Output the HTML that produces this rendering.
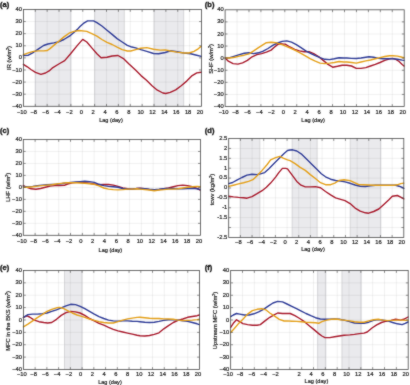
<!DOCTYPE html>
<html><head><meta charset="utf-8"><style>
html,body{margin:0;padding:0;background:#fff;}
svg{display:block;}
#w{width:410px;height:385px;will-change:transform;}
text{font-family:"Liberation Sans", sans-serif;fill:#1a1a1a;stroke:#1a1a1a;stroke-width:0.2px;}
</style></head><body><div id="w">
<svg width="410" height="385" viewBox="0 0 410 385">
<defs><filter id="bl" color-interpolation-filters="sRGB" filterUnits="userSpaceOnUse" x="0" y="0" width="410" height="385"><feConvolveMatrix order="3" kernelMatrix="1 2 1 2 20 2 1 2 1" edgeMode="duplicate" preserveAlpha="false"/></filter></defs>
<g filter="url(#bl)">
<rect width="410" height="385" fill="#fff"/>
<rect x="35.27" y="9.45" width="35.62" height="96.85" fill="#eaeaed"/>
<rect x="94.64" y="9.45" width="29.68" height="96.85" fill="#eaeaed"/>
<rect x="154.01" y="9.45" width="29.68" height="96.85" fill="#eaeaed"/>
<line x1="35.27" y1="9.45" x2="35.27" y2="106.30" stroke="#000" stroke-opacity="0.08" stroke-width="0.8"/>
<line x1="47.15" y1="9.45" x2="47.15" y2="106.30" stroke="#000" stroke-opacity="0.08" stroke-width="0.8"/>
<line x1="59.02" y1="9.45" x2="59.02" y2="106.30" stroke="#000" stroke-opacity="0.08" stroke-width="0.8"/>
<line x1="70.89" y1="9.45" x2="70.89" y2="106.30" stroke="#000" stroke-opacity="0.08" stroke-width="0.8"/>
<line x1="82.77" y1="9.45" x2="82.77" y2="106.30" stroke="#000" stroke-opacity="0.08" stroke-width="0.8"/>
<line x1="94.64" y1="9.45" x2="94.64" y2="106.30" stroke="#000" stroke-opacity="0.08" stroke-width="0.8"/>
<line x1="106.51" y1="9.45" x2="106.51" y2="106.30" stroke="#000" stroke-opacity="0.08" stroke-width="0.8"/>
<line x1="118.39" y1="9.45" x2="118.39" y2="106.30" stroke="#000" stroke-opacity="0.08" stroke-width="0.8"/>
<line x1="130.26" y1="9.45" x2="130.26" y2="106.30" stroke="#000" stroke-opacity="0.08" stroke-width="0.8"/>
<line x1="142.13" y1="9.45" x2="142.13" y2="106.30" stroke="#000" stroke-opacity="0.08" stroke-width="0.8"/>
<line x1="154.01" y1="9.45" x2="154.01" y2="106.30" stroke="#000" stroke-opacity="0.08" stroke-width="0.8"/>
<line x1="165.88" y1="9.45" x2="165.88" y2="106.30" stroke="#000" stroke-opacity="0.08" stroke-width="0.8"/>
<line x1="177.75" y1="9.45" x2="177.75" y2="106.30" stroke="#000" stroke-opacity="0.08" stroke-width="0.8"/>
<line x1="189.63" y1="9.45" x2="189.63" y2="106.30" stroke="#000" stroke-opacity="0.08" stroke-width="0.8"/>
<line x1="23.40" y1="94.19" x2="201.50" y2="94.19" stroke="#000" stroke-opacity="0.08" stroke-width="0.8"/>
<line x1="23.40" y1="82.09" x2="201.50" y2="82.09" stroke="#000" stroke-opacity="0.08" stroke-width="0.8"/>
<line x1="23.40" y1="69.98" x2="201.50" y2="69.98" stroke="#000" stroke-opacity="0.08" stroke-width="0.8"/>
<line x1="23.40" y1="57.88" x2="201.50" y2="57.88" stroke="#000" stroke-opacity="0.08" stroke-width="0.8"/>
<line x1="23.40" y1="45.77" x2="201.50" y2="45.77" stroke="#000" stroke-opacity="0.08" stroke-width="0.8"/>
<line x1="23.40" y1="33.66" x2="201.50" y2="33.66" stroke="#000" stroke-opacity="0.08" stroke-width="0.8"/>
<line x1="23.40" y1="21.56" x2="201.50" y2="21.56" stroke="#000" stroke-opacity="0.08" stroke-width="0.8"/>
<line x1="35.27" y1="9.45" x2="35.27" y2="106.30" stroke="#b8b8bc" stroke-width="0.5"/>
<line x1="70.89" y1="9.45" x2="70.89" y2="106.30" stroke="#b8b8bc" stroke-width="0.5"/>
<line x1="94.64" y1="9.45" x2="94.64" y2="106.30" stroke="#b8b8bc" stroke-width="0.5"/>
<line x1="124.32" y1="9.45" x2="124.32" y2="106.30" stroke="#b8b8bc" stroke-width="0.5"/>
<line x1="154.01" y1="9.45" x2="154.01" y2="106.30" stroke="#b8b8bc" stroke-width="0.5"/>
<line x1="183.69" y1="9.45" x2="183.69" y2="106.30" stroke="#b8b8bc" stroke-width="0.5"/>
<polyline points="23.4,64.3 27.3,66.8 30.9,69.5 35.5,72.3 40.9,74.3 45.5,73.0 49.1,70.9 52.1,68.2 58.8,64.0 64.7,60.6 70.6,53.8 77.4,45.4 82.7,39.4 86.8,42.0 91.8,47.9 96.9,53.8 101.1,57.7 107.0,57.2 112.1,56.0 118.0,55.5 123.9,58.9 129.0,64.0 135.5,70.1 141.0,75.6 146.5,80.2 152.0,85.7 157.4,90.2 162.9,93.0 165.7,93.5 170.2,92.4 175.7,89.9 181.2,85.7 186.7,81.1 192.2,75.6 196.8,72.9 201.3,72.3" fill="none" stroke="#a81a2c" stroke-width="1.4" stroke-linejoin="round" stroke-linecap="round"/>
<polyline points="23.4,55.5 28.4,55.2 33.6,52.3 38.2,49.1 43.6,45.5 47.9,44.0 53.8,42.9 58.0,42.0 63.9,39.5 70.6,35.3 77.4,29.4 80.0,26.5 83.4,23.4 87.6,20.9 93.5,20.9 96.9,22.6 101.9,26.0 107.0,30.2 112.1,34.4 117.1,38.6 122.2,42.0 127.3,45.4 130.7,46.7 135.7,47.9 140.8,49.6 146.8,51.3 153.5,53.5 158.6,53.8 165.3,52.5 170.4,50.8 177.1,51.8 183.9,53.0 190.7,53.8 195.7,55.0 201.3,56.4" fill="none" stroke="#2f3c97" stroke-width="1.4" stroke-linejoin="round" stroke-linecap="round"/>
<polyline points="23.4,54.7 29.1,52.7 33.6,51.4 38.2,50.9 43.6,50.9 47.3,50.5 50.0,48.6 53.8,45.4 58.8,41.2 63.9,36.9 69.0,33.2 74.0,31.4 79.1,30.5 86.8,31.4 91.8,33.6 96.9,36.1 101.9,39.5 107.0,42.4 112.1,44.5 117.1,47.1 122.2,49.6 127.3,51.0 130.7,51.0 135.7,49.6 140.8,48.3 146.8,47.6 153.5,49.3 160.3,50.1 165.3,49.9 170.4,51.0 177.1,52.1 183.9,53.0 189.0,53.0 194.0,51.3 198.2,48.8 201.3,46.2" fill="none" stroke="#e4a01a" stroke-width="1.4" stroke-linejoin="round" stroke-linecap="round"/>
<rect x="23.40" y="9.45" width="178.10" height="96.85" fill="none" stroke="#4a4a4a" stroke-width="0.8"/>
<line x1="35.27" y1="106.30" x2="35.27" y2="103.90" stroke="#4a4a4a" stroke-width="0.6"/>
<line x1="35.27" y1="9.45" x2="35.27" y2="11.85" stroke="#4a4a4a" stroke-width="0.6"/>
<line x1="47.15" y1="106.30" x2="47.15" y2="103.90" stroke="#4a4a4a" stroke-width="0.6"/>
<line x1="47.15" y1="9.45" x2="47.15" y2="11.85" stroke="#4a4a4a" stroke-width="0.6"/>
<line x1="59.02" y1="106.30" x2="59.02" y2="103.90" stroke="#4a4a4a" stroke-width="0.6"/>
<line x1="59.02" y1="9.45" x2="59.02" y2="11.85" stroke="#4a4a4a" stroke-width="0.6"/>
<line x1="70.89" y1="106.30" x2="70.89" y2="103.90" stroke="#4a4a4a" stroke-width="0.6"/>
<line x1="70.89" y1="9.45" x2="70.89" y2="11.85" stroke="#4a4a4a" stroke-width="0.6"/>
<line x1="82.77" y1="106.30" x2="82.77" y2="103.90" stroke="#4a4a4a" stroke-width="0.6"/>
<line x1="82.77" y1="9.45" x2="82.77" y2="11.85" stroke="#4a4a4a" stroke-width="0.6"/>
<line x1="94.64" y1="106.30" x2="94.64" y2="103.90" stroke="#4a4a4a" stroke-width="0.6"/>
<line x1="94.64" y1="9.45" x2="94.64" y2="11.85" stroke="#4a4a4a" stroke-width="0.6"/>
<line x1="106.51" y1="106.30" x2="106.51" y2="103.90" stroke="#4a4a4a" stroke-width="0.6"/>
<line x1="106.51" y1="9.45" x2="106.51" y2="11.85" stroke="#4a4a4a" stroke-width="0.6"/>
<line x1="118.39" y1="106.30" x2="118.39" y2="103.90" stroke="#4a4a4a" stroke-width="0.6"/>
<line x1="118.39" y1="9.45" x2="118.39" y2="11.85" stroke="#4a4a4a" stroke-width="0.6"/>
<line x1="130.26" y1="106.30" x2="130.26" y2="103.90" stroke="#4a4a4a" stroke-width="0.6"/>
<line x1="130.26" y1="9.45" x2="130.26" y2="11.85" stroke="#4a4a4a" stroke-width="0.6"/>
<line x1="142.13" y1="106.30" x2="142.13" y2="103.90" stroke="#4a4a4a" stroke-width="0.6"/>
<line x1="142.13" y1="9.45" x2="142.13" y2="11.85" stroke="#4a4a4a" stroke-width="0.6"/>
<line x1="154.01" y1="106.30" x2="154.01" y2="103.90" stroke="#4a4a4a" stroke-width="0.6"/>
<line x1="154.01" y1="9.45" x2="154.01" y2="11.85" stroke="#4a4a4a" stroke-width="0.6"/>
<line x1="165.88" y1="106.30" x2="165.88" y2="103.90" stroke="#4a4a4a" stroke-width="0.6"/>
<line x1="165.88" y1="9.45" x2="165.88" y2="11.85" stroke="#4a4a4a" stroke-width="0.6"/>
<line x1="177.75" y1="106.30" x2="177.75" y2="103.90" stroke="#4a4a4a" stroke-width="0.6"/>
<line x1="177.75" y1="9.45" x2="177.75" y2="11.85" stroke="#4a4a4a" stroke-width="0.6"/>
<line x1="189.63" y1="106.30" x2="189.63" y2="103.90" stroke="#4a4a4a" stroke-width="0.6"/>
<line x1="189.63" y1="9.45" x2="189.63" y2="11.85" stroke="#4a4a4a" stroke-width="0.6"/>
<line x1="23.40" y1="94.19" x2="25.80" y2="94.19" stroke="#4a4a4a" stroke-width="0.6"/>
<line x1="201.50" y1="94.19" x2="199.10" y2="94.19" stroke="#4a4a4a" stroke-width="0.6"/>
<line x1="23.40" y1="82.09" x2="25.80" y2="82.09" stroke="#4a4a4a" stroke-width="0.6"/>
<line x1="201.50" y1="82.09" x2="199.10" y2="82.09" stroke="#4a4a4a" stroke-width="0.6"/>
<line x1="23.40" y1="69.98" x2="25.80" y2="69.98" stroke="#4a4a4a" stroke-width="0.6"/>
<line x1="201.50" y1="69.98" x2="199.10" y2="69.98" stroke="#4a4a4a" stroke-width="0.6"/>
<line x1="23.40" y1="57.88" x2="25.80" y2="57.88" stroke="#4a4a4a" stroke-width="0.6"/>
<line x1="201.50" y1="57.88" x2="199.10" y2="57.88" stroke="#4a4a4a" stroke-width="0.6"/>
<line x1="23.40" y1="45.77" x2="25.80" y2="45.77" stroke="#4a4a4a" stroke-width="0.6"/>
<line x1="201.50" y1="45.77" x2="199.10" y2="45.77" stroke="#4a4a4a" stroke-width="0.6"/>
<line x1="23.40" y1="33.66" x2="25.80" y2="33.66" stroke="#4a4a4a" stroke-width="0.6"/>
<line x1="201.50" y1="33.66" x2="199.10" y2="33.66" stroke="#4a4a4a" stroke-width="0.6"/>
<line x1="23.40" y1="21.56" x2="25.80" y2="21.56" stroke="#4a4a4a" stroke-width="0.6"/>
<line x1="201.50" y1="21.56" x2="199.10" y2="21.56" stroke="#4a4a4a" stroke-width="0.6"/>
<text x="21.90" y="114.00" text-anchor="middle" font-size="5.8">−10</text>
<text x="33.77" y="114.00" text-anchor="middle" font-size="5.8">−8</text>
<text x="45.65" y="114.00" text-anchor="middle" font-size="5.8">−6</text>
<text x="57.52" y="114.00" text-anchor="middle" font-size="5.8">−4</text>
<text x="69.39" y="114.00" text-anchor="middle" font-size="5.8">−2</text>
<text x="81.27" y="114.00" text-anchor="middle" font-size="5.8">0</text>
<text x="93.14" y="114.00" text-anchor="middle" font-size="5.8">2</text>
<text x="105.01" y="114.00" text-anchor="middle" font-size="5.8">4</text>
<text x="116.89" y="114.00" text-anchor="middle" font-size="5.8">6</text>
<text x="128.76" y="114.00" text-anchor="middle" font-size="5.8">8</text>
<text x="140.63" y="114.00" text-anchor="middle" font-size="5.8">10</text>
<text x="152.51" y="114.00" text-anchor="middle" font-size="5.8">12</text>
<text x="164.38" y="114.00" text-anchor="middle" font-size="5.8">14</text>
<text x="176.25" y="114.00" text-anchor="middle" font-size="5.8">16</text>
<text x="188.13" y="114.00" text-anchor="middle" font-size="5.8">18</text>
<text x="200.00" y="114.00" text-anchor="middle" font-size="5.8">20</text>
<text x="22.00" y="107.90" text-anchor="end" font-size="5.8">−40</text>
<text x="22.00" y="95.79" text-anchor="end" font-size="5.8">−30</text>
<text x="22.00" y="83.69" text-anchor="end" font-size="5.8">−20</text>
<text x="22.00" y="71.58" text-anchor="end" font-size="5.8">−10</text>
<text x="22.00" y="59.48" text-anchor="end" font-size="5.8">0</text>
<text x="22.00" y="47.37" text-anchor="end" font-size="5.8">10</text>
<text x="22.00" y="35.26" text-anchor="end" font-size="5.8">20</text>
<text x="22.00" y="23.16" text-anchor="end" font-size="5.8">30</text>
<text x="22.00" y="11.05" text-anchor="end" font-size="5.8">40</text>
<text x="110.95" y="122.40" text-anchor="middle" font-size="5.6">Lag (day)</text>
<text transform="translate(10.80,58.00) rotate(-90)" text-anchor="middle" font-size="5.8">IR (w/m<tspan font-size="3.6" dy="-2">2</tspan><tspan dy="2">)</tspan></text>
<text x="0.10" y="6.80" font-size="7.5" font-weight="bold" style="stroke-width:0.35px">(a)</text>
<line x1="237.04" y1="9.80" x2="237.04" y2="106.50" stroke="#000" stroke-opacity="0.08" stroke-width="0.8"/>
<line x1="248.98" y1="9.80" x2="248.98" y2="106.50" stroke="#000" stroke-opacity="0.08" stroke-width="0.8"/>
<line x1="260.92" y1="9.80" x2="260.92" y2="106.50" stroke="#000" stroke-opacity="0.08" stroke-width="0.8"/>
<line x1="272.86" y1="9.80" x2="272.86" y2="106.50" stroke="#000" stroke-opacity="0.08" stroke-width="0.8"/>
<line x1="284.80" y1="9.80" x2="284.80" y2="106.50" stroke="#000" stroke-opacity="0.08" stroke-width="0.8"/>
<line x1="296.74" y1="9.80" x2="296.74" y2="106.50" stroke="#000" stroke-opacity="0.08" stroke-width="0.8"/>
<line x1="308.68" y1="9.80" x2="308.68" y2="106.50" stroke="#000" stroke-opacity="0.08" stroke-width="0.8"/>
<line x1="320.62" y1="9.80" x2="320.62" y2="106.50" stroke="#000" stroke-opacity="0.08" stroke-width="0.8"/>
<line x1="332.56" y1="9.80" x2="332.56" y2="106.50" stroke="#000" stroke-opacity="0.08" stroke-width="0.8"/>
<line x1="344.50" y1="9.80" x2="344.50" y2="106.50" stroke="#000" stroke-opacity="0.08" stroke-width="0.8"/>
<line x1="356.44" y1="9.80" x2="356.44" y2="106.50" stroke="#000" stroke-opacity="0.08" stroke-width="0.8"/>
<line x1="368.38" y1="9.80" x2="368.38" y2="106.50" stroke="#000" stroke-opacity="0.08" stroke-width="0.8"/>
<line x1="380.32" y1="9.80" x2="380.32" y2="106.50" stroke="#000" stroke-opacity="0.08" stroke-width="0.8"/>
<line x1="392.26" y1="9.80" x2="392.26" y2="106.50" stroke="#000" stroke-opacity="0.08" stroke-width="0.8"/>
<line x1="225.10" y1="94.41" x2="404.20" y2="94.41" stroke="#000" stroke-opacity="0.08" stroke-width="0.8"/>
<line x1="225.10" y1="82.33" x2="404.20" y2="82.33" stroke="#000" stroke-opacity="0.08" stroke-width="0.8"/>
<line x1="225.10" y1="70.24" x2="404.20" y2="70.24" stroke="#000" stroke-opacity="0.08" stroke-width="0.8"/>
<line x1="225.10" y1="58.15" x2="404.20" y2="58.15" stroke="#000" stroke-opacity="0.08" stroke-width="0.8"/>
<line x1="225.10" y1="46.06" x2="404.20" y2="46.06" stroke="#000" stroke-opacity="0.08" stroke-width="0.8"/>
<line x1="225.10" y1="33.98" x2="404.20" y2="33.98" stroke="#000" stroke-opacity="0.08" stroke-width="0.8"/>
<line x1="225.10" y1="21.89" x2="404.20" y2="21.89" stroke="#000" stroke-opacity="0.08" stroke-width="0.8"/>
<polyline points="225.2,58.0 228.3,61.2 233.1,63.6 237.9,64.1 242.6,62.8 247.4,60.4 252.1,56.8 256.9,54.6 261.6,53.6 266.4,52.2 271.1,50.1 274.3,47.3 277.5,44.6 280.7,43.8 283.8,44.1 285.2,44.1 289.9,47.0 294.7,49.3 299.4,50.9 304.2,51.7 309.0,51.7 313.7,53.6 318.5,56.5 323.2,60.4 328.0,64.4 332.7,67.2 337.5,66.3 342.2,65.2 346.8,65.2 351.5,66.0 356.3,68.4 361.0,68.4 365.8,67.6 370.5,66.0 375.3,64.4 380.0,62.5 384.8,60.4 389.6,58.8 392.7,58.4 395.9,59.3 399.1,61.5 402.2,64.4 404.0,66.0" fill="none" stroke="#a81a2c" stroke-width="1.4" stroke-linejoin="round" stroke-linecap="round"/>
<polyline points="225.2,58.0 229.9,57.7 234.7,56.1 239.4,54.6 244.2,53.3 249.0,52.8 253.7,53.6 258.5,52.8 263.2,51.2 268.0,48.5 272.7,45.4 277.5,43.0 282.2,41.4 286.8,40.9 291.5,42.2 296.3,44.6 301.0,47.7 305.8,50.9 310.5,53.3 315.3,55.7 320.0,57.7 324.8,59.3 329.6,59.6 334.3,58.8 339.1,57.7 343.8,58.0 346.8,58.0 351.5,58.4 356.3,58.5 361.0,58.0 365.8,57.3 369.0,56.8 373.7,57.3 378.5,58.4 383.2,58.8 388.0,58.8 392.7,58.8 397.5,59.2 402.2,60.1 404.0,60.4" fill="none" stroke="#2f3c97" stroke-width="1.4" stroke-linejoin="round" stroke-linecap="round"/>
<polyline points="225.2,58.0 229.9,58.0 234.7,57.3 239.4,56.1 244.2,55.2 249.0,53.8 253.7,50.9 258.5,47.7 263.2,44.6 266.4,42.7 271.1,42.2 275.9,42.7 280.7,44.3 282.0,44.6 286.8,46.6 291.5,48.5 296.3,50.9 301.0,53.3 305.8,56.1 310.5,58.8 315.3,61.2 320.0,63.1 324.8,63.6 329.6,63.1 334.3,62.5 339.1,61.5 343.8,62.0 346.8,62.0 351.5,62.5 356.3,63.1 361.0,62.0 365.8,60.9 370.5,60.0 375.3,58.8 380.0,57.6 384.8,56.5 389.6,55.7 392.7,55.7 397.5,56.1 402.2,57.3 404.0,57.7" fill="none" stroke="#e4a01a" stroke-width="1.4" stroke-linejoin="round" stroke-linecap="round"/>
<rect x="225.10" y="9.80" width="179.10" height="96.70" fill="none" stroke="#4a4a4a" stroke-width="0.8"/>
<line x1="237.04" y1="106.50" x2="237.04" y2="104.10" stroke="#4a4a4a" stroke-width="0.6"/>
<line x1="237.04" y1="9.80" x2="237.04" y2="12.20" stroke="#4a4a4a" stroke-width="0.6"/>
<line x1="248.98" y1="106.50" x2="248.98" y2="104.10" stroke="#4a4a4a" stroke-width="0.6"/>
<line x1="248.98" y1="9.80" x2="248.98" y2="12.20" stroke="#4a4a4a" stroke-width="0.6"/>
<line x1="260.92" y1="106.50" x2="260.92" y2="104.10" stroke="#4a4a4a" stroke-width="0.6"/>
<line x1="260.92" y1="9.80" x2="260.92" y2="12.20" stroke="#4a4a4a" stroke-width="0.6"/>
<line x1="272.86" y1="106.50" x2="272.86" y2="104.10" stroke="#4a4a4a" stroke-width="0.6"/>
<line x1="272.86" y1="9.80" x2="272.86" y2="12.20" stroke="#4a4a4a" stroke-width="0.6"/>
<line x1="284.80" y1="106.50" x2="284.80" y2="104.10" stroke="#4a4a4a" stroke-width="0.6"/>
<line x1="284.80" y1="9.80" x2="284.80" y2="12.20" stroke="#4a4a4a" stroke-width="0.6"/>
<line x1="296.74" y1="106.50" x2="296.74" y2="104.10" stroke="#4a4a4a" stroke-width="0.6"/>
<line x1="296.74" y1="9.80" x2="296.74" y2="12.20" stroke="#4a4a4a" stroke-width="0.6"/>
<line x1="308.68" y1="106.50" x2="308.68" y2="104.10" stroke="#4a4a4a" stroke-width="0.6"/>
<line x1="308.68" y1="9.80" x2="308.68" y2="12.20" stroke="#4a4a4a" stroke-width="0.6"/>
<line x1="320.62" y1="106.50" x2="320.62" y2="104.10" stroke="#4a4a4a" stroke-width="0.6"/>
<line x1="320.62" y1="9.80" x2="320.62" y2="12.20" stroke="#4a4a4a" stroke-width="0.6"/>
<line x1="332.56" y1="106.50" x2="332.56" y2="104.10" stroke="#4a4a4a" stroke-width="0.6"/>
<line x1="332.56" y1="9.80" x2="332.56" y2="12.20" stroke="#4a4a4a" stroke-width="0.6"/>
<line x1="344.50" y1="106.50" x2="344.50" y2="104.10" stroke="#4a4a4a" stroke-width="0.6"/>
<line x1="344.50" y1="9.80" x2="344.50" y2="12.20" stroke="#4a4a4a" stroke-width="0.6"/>
<line x1="356.44" y1="106.50" x2="356.44" y2="104.10" stroke="#4a4a4a" stroke-width="0.6"/>
<line x1="356.44" y1="9.80" x2="356.44" y2="12.20" stroke="#4a4a4a" stroke-width="0.6"/>
<line x1="368.38" y1="106.50" x2="368.38" y2="104.10" stroke="#4a4a4a" stroke-width="0.6"/>
<line x1="368.38" y1="9.80" x2="368.38" y2="12.20" stroke="#4a4a4a" stroke-width="0.6"/>
<line x1="380.32" y1="106.50" x2="380.32" y2="104.10" stroke="#4a4a4a" stroke-width="0.6"/>
<line x1="380.32" y1="9.80" x2="380.32" y2="12.20" stroke="#4a4a4a" stroke-width="0.6"/>
<line x1="392.26" y1="106.50" x2="392.26" y2="104.10" stroke="#4a4a4a" stroke-width="0.6"/>
<line x1="392.26" y1="9.80" x2="392.26" y2="12.20" stroke="#4a4a4a" stroke-width="0.6"/>
<line x1="225.10" y1="94.41" x2="227.50" y2="94.41" stroke="#4a4a4a" stroke-width="0.6"/>
<line x1="404.20" y1="94.41" x2="401.80" y2="94.41" stroke="#4a4a4a" stroke-width="0.6"/>
<line x1="225.10" y1="82.33" x2="227.50" y2="82.33" stroke="#4a4a4a" stroke-width="0.6"/>
<line x1="404.20" y1="82.33" x2="401.80" y2="82.33" stroke="#4a4a4a" stroke-width="0.6"/>
<line x1="225.10" y1="70.24" x2="227.50" y2="70.24" stroke="#4a4a4a" stroke-width="0.6"/>
<line x1="404.20" y1="70.24" x2="401.80" y2="70.24" stroke="#4a4a4a" stroke-width="0.6"/>
<line x1="225.10" y1="58.15" x2="227.50" y2="58.15" stroke="#4a4a4a" stroke-width="0.6"/>
<line x1="404.20" y1="58.15" x2="401.80" y2="58.15" stroke="#4a4a4a" stroke-width="0.6"/>
<line x1="225.10" y1="46.06" x2="227.50" y2="46.06" stroke="#4a4a4a" stroke-width="0.6"/>
<line x1="404.20" y1="46.06" x2="401.80" y2="46.06" stroke="#4a4a4a" stroke-width="0.6"/>
<line x1="225.10" y1="33.98" x2="227.50" y2="33.98" stroke="#4a4a4a" stroke-width="0.6"/>
<line x1="404.20" y1="33.98" x2="401.80" y2="33.98" stroke="#4a4a4a" stroke-width="0.6"/>
<line x1="225.10" y1="21.89" x2="227.50" y2="21.89" stroke="#4a4a4a" stroke-width="0.6"/>
<line x1="404.20" y1="21.89" x2="401.80" y2="21.89" stroke="#4a4a4a" stroke-width="0.6"/>
<text x="223.60" y="114.00" text-anchor="middle" font-size="5.8">−10</text>
<text x="235.54" y="114.00" text-anchor="middle" font-size="5.8">−8</text>
<text x="247.48" y="114.00" text-anchor="middle" font-size="5.8">−6</text>
<text x="259.42" y="114.00" text-anchor="middle" font-size="5.8">−4</text>
<text x="271.36" y="114.00" text-anchor="middle" font-size="5.8">−2</text>
<text x="283.30" y="114.00" text-anchor="middle" font-size="5.8">0</text>
<text x="295.24" y="114.00" text-anchor="middle" font-size="5.8">2</text>
<text x="307.18" y="114.00" text-anchor="middle" font-size="5.8">4</text>
<text x="319.12" y="114.00" text-anchor="middle" font-size="5.8">6</text>
<text x="331.06" y="114.00" text-anchor="middle" font-size="5.8">8</text>
<text x="343.00" y="114.00" text-anchor="middle" font-size="5.8">10</text>
<text x="354.94" y="114.00" text-anchor="middle" font-size="5.8">12</text>
<text x="366.88" y="114.00" text-anchor="middle" font-size="5.8">14</text>
<text x="378.82" y="114.00" text-anchor="middle" font-size="5.8">16</text>
<text x="390.76" y="114.00" text-anchor="middle" font-size="5.8">18</text>
<text x="402.70" y="114.00" text-anchor="middle" font-size="5.8">20</text>
<text x="223.70" y="108.10" text-anchor="end" font-size="5.8">−40</text>
<text x="223.70" y="96.01" text-anchor="end" font-size="5.8">−30</text>
<text x="223.70" y="83.92" text-anchor="end" font-size="5.8">−20</text>
<text x="223.70" y="71.84" text-anchor="end" font-size="5.8">−10</text>
<text x="223.70" y="59.75" text-anchor="end" font-size="5.8">0</text>
<text x="223.70" y="47.66" text-anchor="end" font-size="5.8">10</text>
<text x="223.70" y="35.58" text-anchor="end" font-size="5.8">20</text>
<text x="223.70" y="23.49" text-anchor="end" font-size="5.8">30</text>
<text x="223.70" y="11.40" text-anchor="end" font-size="5.8">40</text>
<text x="313.15" y="122.40" text-anchor="middle" font-size="5.6">Lag (day)</text>
<text transform="translate(212.60,59.00) rotate(-90)" text-anchor="middle" font-size="5.8">SHF (w/m<tspan font-size="3.6" dy="-2">2</tspan><tspan dy="2">)</tspan></text>
<text x="204.80" y="6.90" font-size="7.5" font-weight="bold" style="stroke-width:0.35px">(b)</text>
<line x1="35.11" y1="139.45" x2="35.11" y2="235.30" stroke="#000" stroke-opacity="0.08" stroke-width="0.8"/>
<line x1="46.91" y1="139.45" x2="46.91" y2="235.30" stroke="#000" stroke-opacity="0.08" stroke-width="0.8"/>
<line x1="58.72" y1="139.45" x2="58.72" y2="235.30" stroke="#000" stroke-opacity="0.08" stroke-width="0.8"/>
<line x1="70.53" y1="139.45" x2="70.53" y2="235.30" stroke="#000" stroke-opacity="0.08" stroke-width="0.8"/>
<line x1="82.33" y1="139.45" x2="82.33" y2="235.30" stroke="#000" stroke-opacity="0.08" stroke-width="0.8"/>
<line x1="94.14" y1="139.45" x2="94.14" y2="235.30" stroke="#000" stroke-opacity="0.08" stroke-width="0.8"/>
<line x1="105.95" y1="139.45" x2="105.95" y2="235.30" stroke="#000" stroke-opacity="0.08" stroke-width="0.8"/>
<line x1="117.75" y1="139.45" x2="117.75" y2="235.30" stroke="#000" stroke-opacity="0.08" stroke-width="0.8"/>
<line x1="129.56" y1="139.45" x2="129.56" y2="235.30" stroke="#000" stroke-opacity="0.08" stroke-width="0.8"/>
<line x1="141.37" y1="139.45" x2="141.37" y2="235.30" stroke="#000" stroke-opacity="0.08" stroke-width="0.8"/>
<line x1="153.17" y1="139.45" x2="153.17" y2="235.30" stroke="#000" stroke-opacity="0.08" stroke-width="0.8"/>
<line x1="164.98" y1="139.45" x2="164.98" y2="235.30" stroke="#000" stroke-opacity="0.08" stroke-width="0.8"/>
<line x1="176.79" y1="139.45" x2="176.79" y2="235.30" stroke="#000" stroke-opacity="0.08" stroke-width="0.8"/>
<line x1="188.59" y1="139.45" x2="188.59" y2="235.30" stroke="#000" stroke-opacity="0.08" stroke-width="0.8"/>
<line x1="23.30" y1="223.32" x2="200.40" y2="223.32" stroke="#000" stroke-opacity="0.08" stroke-width="0.8"/>
<line x1="23.30" y1="211.34" x2="200.40" y2="211.34" stroke="#000" stroke-opacity="0.08" stroke-width="0.8"/>
<line x1="23.30" y1="199.36" x2="200.40" y2="199.36" stroke="#000" stroke-opacity="0.08" stroke-width="0.8"/>
<line x1="23.30" y1="187.38" x2="200.40" y2="187.38" stroke="#000" stroke-opacity="0.08" stroke-width="0.8"/>
<line x1="23.30" y1="175.39" x2="200.40" y2="175.39" stroke="#000" stroke-opacity="0.08" stroke-width="0.8"/>
<line x1="23.30" y1="163.41" x2="200.40" y2="163.41" stroke="#000" stroke-opacity="0.08" stroke-width="0.8"/>
<line x1="23.30" y1="151.43" x2="200.40" y2="151.43" stroke="#000" stroke-opacity="0.08" stroke-width="0.8"/>
<polyline points="23.3,185.6 26.3,187.2 31.1,188.8 35.9,189.3 40.6,188.5 45.4,187.2 50.1,186.1 54.9,185.6 59.6,185.6 64.4,185.3 67.6,184.0 72.3,182.9 77.1,182.4 80.0,182.4 84.8,182.8 89.5,183.2 94.3,184.0 99.0,184.8 103.8,184.5 108.5,184.5 113.3,185.1 118.0,186.4 122.8,188.0 127.6,188.8 132.3,189.1 137.1,188.5 140.0,188.3 144.8,188.8 149.5,189.6 154.3,190.0 159.0,189.6 163.8,188.8 168.5,188.0 173.3,186.7 178.0,185.6 182.8,185.1 187.6,185.6 192.3,186.7 197.1,188.5 200.3,190.0" fill="none" stroke="#a81a2c" stroke-width="1.4" stroke-linejoin="round" stroke-linecap="round"/>
<polyline points="23.3,186.4 27.9,186.9 32.7,186.4 37.4,185.6 42.2,185.1 47.0,184.8 51.7,184.5 56.5,184.2 61.2,183.7 66.0,182.9 70.7,182.4 75.5,182.0 80.2,181.6 84.8,181.3 89.5,181.6 94.3,182.4 99.0,184.3 103.8,185.6 108.5,186.4 113.3,186.7 118.0,187.2 122.8,188.5 127.6,189.1 132.3,189.1 137.1,188.5 140.0,188.5 144.8,188.8 149.5,189.3 154.3,189.6 159.0,189.3 163.8,188.8 168.5,188.5 173.3,188.5 178.0,188.8 182.8,188.8 187.6,188.5 192.3,188.3 197.1,188.8 200.3,189.6" fill="none" stroke="#2f3c97" stroke-width="1.4" stroke-linejoin="round" stroke-linecap="round"/>
<polyline points="23.3,187.2 27.9,187.2 32.7,186.7 37.4,186.1 42.2,185.6 47.0,185.1 51.7,184.7 56.5,184.0 61.2,183.4 66.0,182.8 70.7,182.8 75.5,182.8 80.2,183.0 84.8,183.2 89.5,183.7 94.3,184.3 99.0,185.9 103.8,188.0 108.5,189.1 113.3,189.6 118.0,189.9 122.8,189.6 127.6,189.1 132.3,189.1 137.1,188.8 140.0,189.1 144.8,189.6 149.5,190.0 154.3,190.7 159.0,190.0 163.8,189.6 168.5,189.1 173.3,189.1 178.0,188.8 182.8,188.0 187.6,187.2 192.3,186.7 197.1,186.4 200.3,186.7" fill="none" stroke="#e4a01a" stroke-width="1.4" stroke-linejoin="round" stroke-linecap="round"/>
<rect x="23.30" y="139.45" width="177.10" height="95.85" fill="none" stroke="#4a4a4a" stroke-width="0.8"/>
<line x1="35.11" y1="235.30" x2="35.11" y2="232.90" stroke="#4a4a4a" stroke-width="0.6"/>
<line x1="35.11" y1="139.45" x2="35.11" y2="141.85" stroke="#4a4a4a" stroke-width="0.6"/>
<line x1="46.91" y1="235.30" x2="46.91" y2="232.90" stroke="#4a4a4a" stroke-width="0.6"/>
<line x1="46.91" y1="139.45" x2="46.91" y2="141.85" stroke="#4a4a4a" stroke-width="0.6"/>
<line x1="58.72" y1="235.30" x2="58.72" y2="232.90" stroke="#4a4a4a" stroke-width="0.6"/>
<line x1="58.72" y1="139.45" x2="58.72" y2="141.85" stroke="#4a4a4a" stroke-width="0.6"/>
<line x1="70.53" y1="235.30" x2="70.53" y2="232.90" stroke="#4a4a4a" stroke-width="0.6"/>
<line x1="70.53" y1="139.45" x2="70.53" y2="141.85" stroke="#4a4a4a" stroke-width="0.6"/>
<line x1="82.33" y1="235.30" x2="82.33" y2="232.90" stroke="#4a4a4a" stroke-width="0.6"/>
<line x1="82.33" y1="139.45" x2="82.33" y2="141.85" stroke="#4a4a4a" stroke-width="0.6"/>
<line x1="94.14" y1="235.30" x2="94.14" y2="232.90" stroke="#4a4a4a" stroke-width="0.6"/>
<line x1="94.14" y1="139.45" x2="94.14" y2="141.85" stroke="#4a4a4a" stroke-width="0.6"/>
<line x1="105.95" y1="235.30" x2="105.95" y2="232.90" stroke="#4a4a4a" stroke-width="0.6"/>
<line x1="105.95" y1="139.45" x2="105.95" y2="141.85" stroke="#4a4a4a" stroke-width="0.6"/>
<line x1="117.75" y1="235.30" x2="117.75" y2="232.90" stroke="#4a4a4a" stroke-width="0.6"/>
<line x1="117.75" y1="139.45" x2="117.75" y2="141.85" stroke="#4a4a4a" stroke-width="0.6"/>
<line x1="129.56" y1="235.30" x2="129.56" y2="232.90" stroke="#4a4a4a" stroke-width="0.6"/>
<line x1="129.56" y1="139.45" x2="129.56" y2="141.85" stroke="#4a4a4a" stroke-width="0.6"/>
<line x1="141.37" y1="235.30" x2="141.37" y2="232.90" stroke="#4a4a4a" stroke-width="0.6"/>
<line x1="141.37" y1="139.45" x2="141.37" y2="141.85" stroke="#4a4a4a" stroke-width="0.6"/>
<line x1="153.17" y1="235.30" x2="153.17" y2="232.90" stroke="#4a4a4a" stroke-width="0.6"/>
<line x1="153.17" y1="139.45" x2="153.17" y2="141.85" stroke="#4a4a4a" stroke-width="0.6"/>
<line x1="164.98" y1="235.30" x2="164.98" y2="232.90" stroke="#4a4a4a" stroke-width="0.6"/>
<line x1="164.98" y1="139.45" x2="164.98" y2="141.85" stroke="#4a4a4a" stroke-width="0.6"/>
<line x1="176.79" y1="235.30" x2="176.79" y2="232.90" stroke="#4a4a4a" stroke-width="0.6"/>
<line x1="176.79" y1="139.45" x2="176.79" y2="141.85" stroke="#4a4a4a" stroke-width="0.6"/>
<line x1="188.59" y1="235.30" x2="188.59" y2="232.90" stroke="#4a4a4a" stroke-width="0.6"/>
<line x1="188.59" y1="139.45" x2="188.59" y2="141.85" stroke="#4a4a4a" stroke-width="0.6"/>
<line x1="23.30" y1="223.32" x2="25.70" y2="223.32" stroke="#4a4a4a" stroke-width="0.6"/>
<line x1="200.40" y1="223.32" x2="198.00" y2="223.32" stroke="#4a4a4a" stroke-width="0.6"/>
<line x1="23.30" y1="211.34" x2="25.70" y2="211.34" stroke="#4a4a4a" stroke-width="0.6"/>
<line x1="200.40" y1="211.34" x2="198.00" y2="211.34" stroke="#4a4a4a" stroke-width="0.6"/>
<line x1="23.30" y1="199.36" x2="25.70" y2="199.36" stroke="#4a4a4a" stroke-width="0.6"/>
<line x1="200.40" y1="199.36" x2="198.00" y2="199.36" stroke="#4a4a4a" stroke-width="0.6"/>
<line x1="23.30" y1="187.38" x2="25.70" y2="187.38" stroke="#4a4a4a" stroke-width="0.6"/>
<line x1="200.40" y1="187.38" x2="198.00" y2="187.38" stroke="#4a4a4a" stroke-width="0.6"/>
<line x1="23.30" y1="175.39" x2="25.70" y2="175.39" stroke="#4a4a4a" stroke-width="0.6"/>
<line x1="200.40" y1="175.39" x2="198.00" y2="175.39" stroke="#4a4a4a" stroke-width="0.6"/>
<line x1="23.30" y1="163.41" x2="25.70" y2="163.41" stroke="#4a4a4a" stroke-width="0.6"/>
<line x1="200.40" y1="163.41" x2="198.00" y2="163.41" stroke="#4a4a4a" stroke-width="0.6"/>
<line x1="23.30" y1="151.43" x2="25.70" y2="151.43" stroke="#4a4a4a" stroke-width="0.6"/>
<line x1="200.40" y1="151.43" x2="198.00" y2="151.43" stroke="#4a4a4a" stroke-width="0.6"/>
<text x="21.80" y="242.50" text-anchor="middle" font-size="5.8">−10</text>
<text x="33.61" y="242.50" text-anchor="middle" font-size="5.8">−8</text>
<text x="45.41" y="242.50" text-anchor="middle" font-size="5.8">−6</text>
<text x="57.22" y="242.50" text-anchor="middle" font-size="5.8">−4</text>
<text x="69.03" y="242.50" text-anchor="middle" font-size="5.8">−2</text>
<text x="80.83" y="242.50" text-anchor="middle" font-size="5.8">0</text>
<text x="92.64" y="242.50" text-anchor="middle" font-size="5.8">2</text>
<text x="104.45" y="242.50" text-anchor="middle" font-size="5.8">4</text>
<text x="116.25" y="242.50" text-anchor="middle" font-size="5.8">6</text>
<text x="128.06" y="242.50" text-anchor="middle" font-size="5.8">8</text>
<text x="139.87" y="242.50" text-anchor="middle" font-size="5.8">10</text>
<text x="151.67" y="242.50" text-anchor="middle" font-size="5.8">12</text>
<text x="163.48" y="242.50" text-anchor="middle" font-size="5.8">14</text>
<text x="175.29" y="242.50" text-anchor="middle" font-size="5.8">16</text>
<text x="187.09" y="242.50" text-anchor="middle" font-size="5.8">18</text>
<text x="198.90" y="242.50" text-anchor="middle" font-size="5.8">20</text>
<text x="21.90" y="236.90" text-anchor="end" font-size="5.8">−40</text>
<text x="21.90" y="224.92" text-anchor="end" font-size="5.8">−30</text>
<text x="21.90" y="212.94" text-anchor="end" font-size="5.8">−20</text>
<text x="21.90" y="200.96" text-anchor="end" font-size="5.8">−10</text>
<text x="21.90" y="188.97" text-anchor="end" font-size="5.8">0</text>
<text x="21.90" y="176.99" text-anchor="end" font-size="5.8">10</text>
<text x="21.90" y="165.01" text-anchor="end" font-size="5.8">20</text>
<text x="21.90" y="153.03" text-anchor="end" font-size="5.8">30</text>
<text x="21.90" y="141.05" text-anchor="end" font-size="5.8">40</text>
<text x="110.35" y="251.50" text-anchor="middle" font-size="5.6">Lag (day)</text>
<text transform="translate(9.90,187.30) rotate(-90)" text-anchor="middle" font-size="5.8">LHF (w/m<tspan font-size="3.6" dy="-2">2</tspan><tspan dy="2">)</tspan></text>
<text x="0.10" y="133.00" font-size="7.5" font-weight="bold" style="stroke-width:0.35px">(c)</text>
<rect x="240.20" y="138.55" width="19.70" height="98.85" fill="#eaeaed"/>
<rect x="292.10" y="138.55" width="25.10" height="98.85" fill="#eaeaed"/>
<rect x="350.20" y="138.55" width="30.60" height="98.85" fill="#eaeaed"/>
<line x1="240.37" y1="138.55" x2="240.37" y2="237.40" stroke="#000" stroke-opacity="0.08" stroke-width="0.8"/>
<line x1="252.05" y1="138.55" x2="252.05" y2="237.40" stroke="#000" stroke-opacity="0.08" stroke-width="0.8"/>
<line x1="263.72" y1="138.55" x2="263.72" y2="237.40" stroke="#000" stroke-opacity="0.08" stroke-width="0.8"/>
<line x1="275.39" y1="138.55" x2="275.39" y2="237.40" stroke="#000" stroke-opacity="0.08" stroke-width="0.8"/>
<line x1="287.07" y1="138.55" x2="287.07" y2="237.40" stroke="#000" stroke-opacity="0.08" stroke-width="0.8"/>
<line x1="298.74" y1="138.55" x2="298.74" y2="237.40" stroke="#000" stroke-opacity="0.08" stroke-width="0.8"/>
<line x1="310.41" y1="138.55" x2="310.41" y2="237.40" stroke="#000" stroke-opacity="0.08" stroke-width="0.8"/>
<line x1="322.09" y1="138.55" x2="322.09" y2="237.40" stroke="#000" stroke-opacity="0.08" stroke-width="0.8"/>
<line x1="333.76" y1="138.55" x2="333.76" y2="237.40" stroke="#000" stroke-opacity="0.08" stroke-width="0.8"/>
<line x1="345.43" y1="138.55" x2="345.43" y2="237.40" stroke="#000" stroke-opacity="0.08" stroke-width="0.8"/>
<line x1="357.11" y1="138.55" x2="357.11" y2="237.40" stroke="#000" stroke-opacity="0.08" stroke-width="0.8"/>
<line x1="368.78" y1="138.55" x2="368.78" y2="237.40" stroke="#000" stroke-opacity="0.08" stroke-width="0.8"/>
<line x1="380.45" y1="138.55" x2="380.45" y2="237.40" stroke="#000" stroke-opacity="0.08" stroke-width="0.8"/>
<line x1="392.13" y1="138.55" x2="392.13" y2="237.40" stroke="#000" stroke-opacity="0.08" stroke-width="0.8"/>
<line x1="228.70" y1="227.52" x2="403.80" y2="227.52" stroke="#000" stroke-opacity="0.08" stroke-width="0.8"/>
<line x1="228.70" y1="217.63" x2="403.80" y2="217.63" stroke="#000" stroke-opacity="0.08" stroke-width="0.8"/>
<line x1="228.70" y1="207.75" x2="403.80" y2="207.75" stroke="#000" stroke-opacity="0.08" stroke-width="0.8"/>
<line x1="228.70" y1="197.86" x2="403.80" y2="197.86" stroke="#000" stroke-opacity="0.08" stroke-width="0.8"/>
<line x1="228.70" y1="187.98" x2="403.80" y2="187.98" stroke="#000" stroke-opacity="0.08" stroke-width="0.8"/>
<line x1="228.70" y1="178.09" x2="403.80" y2="178.09" stroke="#000" stroke-opacity="0.08" stroke-width="0.8"/>
<line x1="228.70" y1="168.21" x2="403.80" y2="168.21" stroke="#000" stroke-opacity="0.08" stroke-width="0.8"/>
<line x1="228.70" y1="158.32" x2="403.80" y2="158.32" stroke="#000" stroke-opacity="0.08" stroke-width="0.8"/>
<line x1="228.70" y1="148.44" x2="403.80" y2="148.44" stroke="#000" stroke-opacity="0.08" stroke-width="0.8"/>
<line x1="240.20" y1="138.55" x2="240.20" y2="237.40" stroke="#b8b8bc" stroke-width="0.5"/>
<line x1="259.90" y1="138.55" x2="259.90" y2="237.40" stroke="#b8b8bc" stroke-width="0.5"/>
<line x1="292.10" y1="138.55" x2="292.10" y2="237.40" stroke="#b8b8bc" stroke-width="0.5"/>
<line x1="317.20" y1="138.55" x2="317.20" y2="237.40" stroke="#b8b8bc" stroke-width="0.5"/>
<line x1="350.20" y1="138.55" x2="350.20" y2="237.40" stroke="#b8b8bc" stroke-width="0.5"/>
<line x1="380.80" y1="138.55" x2="380.80" y2="237.40" stroke="#b8b8bc" stroke-width="0.5"/>
<polyline points="228.7,196.2 233.4,196.9 238.5,197.4 243.6,197.7 247.0,198.2 252.0,196.6 257.1,193.7 262.1,190.7 266.4,187.3 270.6,183.1 275.6,177.1 279.0,172.4 282.4,168.4 285.8,168.4 287.5,168.9 291.8,174.6 296.8,181.4 301.0,185.2 305.3,186.9 310.3,186.9 315.4,186.6 320.5,187.8 325.5,191.5 330.6,194.9 335.6,197.9 340.7,199.4 345.0,200.7 350.1,203.6 355.1,208.1 360.2,211.2 365.3,212.8 368.6,213.2 373.7,211.5 378.8,209.0 383.8,204.4 388.9,199.7 392.3,196.3 397.3,195.5 400.7,197.1 403.8,198.8" fill="none" stroke="#a81a2c" stroke-width="1.4" stroke-linejoin="round" stroke-linecap="round"/>
<polyline points="228.7,183.6 232.6,182.5 236.8,180.2 241.9,177.5 247.0,175.1 252.0,174.3 257.1,174.6 260.5,173.8 264.7,172.6 268.9,168.7 274.0,163.6 279.0,158.6 284.1,153.5 287.5,150.5 290.0,150.0 292.6,149.8 296.8,151.0 301.9,154.4 307.0,159.4 312.0,164.5 317.1,169.5 321.3,173.8 325.5,176.8 330.6,179.2 335.6,180.5 340.7,181.0 345.0,181.9 350.1,183.3 355.1,185.0 360.2,186.2 365.3,186.5 370.3,185.8 375.4,185.3 380.5,185.3 385.5,185.3 390.6,185.3 395.6,185.3 399.0,186.2 402.4,187.5 403.8,188.4" fill="none" stroke="#2f3c97" stroke-width="1.4" stroke-linejoin="round" stroke-linecap="round"/>
<polyline points="228.7,186.4 233.4,185.2 238.5,183.9 243.6,182.7 248.6,181.4 252.9,179.7 257.1,175.8 262.1,170.4 267.2,164.5 270.6,159.9 275.6,157.7 279.9,156.4 283.2,158.2 287.5,159.9 290.1,160.6 295.1,163.6 300.2,167.4 305.3,170.4 310.3,174.6 315.4,178.5 320.5,182.7 325.5,184.7 330.6,184.7 334.8,183.1 339.0,180.5 344.1,179.7 350.1,180.6 355.1,182.8 358.5,184.5 363.6,184.8 368.6,185.0 373.7,185.3 378.8,185.3 383.8,185.3 388.9,185.3 394.0,185.3 397.3,184.8 400.7,183.6 403.8,183.1" fill="none" stroke="#e4a01a" stroke-width="1.4" stroke-linejoin="round" stroke-linecap="round"/>
<rect x="228.70" y="138.55" width="175.10" height="98.85" fill="none" stroke="#4a4a4a" stroke-width="0.8"/>
<line x1="240.37" y1="237.40" x2="240.37" y2="235.00" stroke="#4a4a4a" stroke-width="0.6"/>
<line x1="240.37" y1="138.55" x2="240.37" y2="140.95" stroke="#4a4a4a" stroke-width="0.6"/>
<line x1="252.05" y1="237.40" x2="252.05" y2="235.00" stroke="#4a4a4a" stroke-width="0.6"/>
<line x1="252.05" y1="138.55" x2="252.05" y2="140.95" stroke="#4a4a4a" stroke-width="0.6"/>
<line x1="263.72" y1="237.40" x2="263.72" y2="235.00" stroke="#4a4a4a" stroke-width="0.6"/>
<line x1="263.72" y1="138.55" x2="263.72" y2="140.95" stroke="#4a4a4a" stroke-width="0.6"/>
<line x1="275.39" y1="237.40" x2="275.39" y2="235.00" stroke="#4a4a4a" stroke-width="0.6"/>
<line x1="275.39" y1="138.55" x2="275.39" y2="140.95" stroke="#4a4a4a" stroke-width="0.6"/>
<line x1="287.07" y1="237.40" x2="287.07" y2="235.00" stroke="#4a4a4a" stroke-width="0.6"/>
<line x1="287.07" y1="138.55" x2="287.07" y2="140.95" stroke="#4a4a4a" stroke-width="0.6"/>
<line x1="298.74" y1="237.40" x2="298.74" y2="235.00" stroke="#4a4a4a" stroke-width="0.6"/>
<line x1="298.74" y1="138.55" x2="298.74" y2="140.95" stroke="#4a4a4a" stroke-width="0.6"/>
<line x1="310.41" y1="237.40" x2="310.41" y2="235.00" stroke="#4a4a4a" stroke-width="0.6"/>
<line x1="310.41" y1="138.55" x2="310.41" y2="140.95" stroke="#4a4a4a" stroke-width="0.6"/>
<line x1="322.09" y1="237.40" x2="322.09" y2="235.00" stroke="#4a4a4a" stroke-width="0.6"/>
<line x1="322.09" y1="138.55" x2="322.09" y2="140.95" stroke="#4a4a4a" stroke-width="0.6"/>
<line x1="333.76" y1="237.40" x2="333.76" y2="235.00" stroke="#4a4a4a" stroke-width="0.6"/>
<line x1="333.76" y1="138.55" x2="333.76" y2="140.95" stroke="#4a4a4a" stroke-width="0.6"/>
<line x1="345.43" y1="237.40" x2="345.43" y2="235.00" stroke="#4a4a4a" stroke-width="0.6"/>
<line x1="345.43" y1="138.55" x2="345.43" y2="140.95" stroke="#4a4a4a" stroke-width="0.6"/>
<line x1="357.11" y1="237.40" x2="357.11" y2="235.00" stroke="#4a4a4a" stroke-width="0.6"/>
<line x1="357.11" y1="138.55" x2="357.11" y2="140.95" stroke="#4a4a4a" stroke-width="0.6"/>
<line x1="368.78" y1="237.40" x2="368.78" y2="235.00" stroke="#4a4a4a" stroke-width="0.6"/>
<line x1="368.78" y1="138.55" x2="368.78" y2="140.95" stroke="#4a4a4a" stroke-width="0.6"/>
<line x1="380.45" y1="237.40" x2="380.45" y2="235.00" stroke="#4a4a4a" stroke-width="0.6"/>
<line x1="380.45" y1="138.55" x2="380.45" y2="140.95" stroke="#4a4a4a" stroke-width="0.6"/>
<line x1="392.13" y1="237.40" x2="392.13" y2="235.00" stroke="#4a4a4a" stroke-width="0.6"/>
<line x1="392.13" y1="138.55" x2="392.13" y2="140.95" stroke="#4a4a4a" stroke-width="0.6"/>
<line x1="228.70" y1="227.52" x2="231.10" y2="227.52" stroke="#4a4a4a" stroke-width="0.6"/>
<line x1="403.80" y1="227.52" x2="401.40" y2="227.52" stroke="#4a4a4a" stroke-width="0.6"/>
<line x1="228.70" y1="217.63" x2="231.10" y2="217.63" stroke="#4a4a4a" stroke-width="0.6"/>
<line x1="403.80" y1="217.63" x2="401.40" y2="217.63" stroke="#4a4a4a" stroke-width="0.6"/>
<line x1="228.70" y1="207.75" x2="231.10" y2="207.75" stroke="#4a4a4a" stroke-width="0.6"/>
<line x1="403.80" y1="207.75" x2="401.40" y2="207.75" stroke="#4a4a4a" stroke-width="0.6"/>
<line x1="228.70" y1="197.86" x2="231.10" y2="197.86" stroke="#4a4a4a" stroke-width="0.6"/>
<line x1="403.80" y1="197.86" x2="401.40" y2="197.86" stroke="#4a4a4a" stroke-width="0.6"/>
<line x1="228.70" y1="187.98" x2="231.10" y2="187.98" stroke="#4a4a4a" stroke-width="0.6"/>
<line x1="403.80" y1="187.98" x2="401.40" y2="187.98" stroke="#4a4a4a" stroke-width="0.6"/>
<line x1="228.70" y1="178.09" x2="231.10" y2="178.09" stroke="#4a4a4a" stroke-width="0.6"/>
<line x1="403.80" y1="178.09" x2="401.40" y2="178.09" stroke="#4a4a4a" stroke-width="0.6"/>
<line x1="228.70" y1="168.21" x2="231.10" y2="168.21" stroke="#4a4a4a" stroke-width="0.6"/>
<line x1="403.80" y1="168.21" x2="401.40" y2="168.21" stroke="#4a4a4a" stroke-width="0.6"/>
<line x1="228.70" y1="158.32" x2="231.10" y2="158.32" stroke="#4a4a4a" stroke-width="0.6"/>
<line x1="403.80" y1="158.32" x2="401.40" y2="158.32" stroke="#4a4a4a" stroke-width="0.6"/>
<line x1="228.70" y1="148.44" x2="231.10" y2="148.44" stroke="#4a4a4a" stroke-width="0.6"/>
<line x1="403.80" y1="148.44" x2="401.40" y2="148.44" stroke="#4a4a4a" stroke-width="0.6"/>
<text x="238.37" y="244.00" text-anchor="middle" font-size="5.8">−8</text>
<text x="250.05" y="244.00" text-anchor="middle" font-size="5.8">−6</text>
<text x="261.72" y="244.00" text-anchor="middle" font-size="5.8">−4</text>
<text x="273.39" y="244.00" text-anchor="middle" font-size="5.8">−2</text>
<text x="285.07" y="244.00" text-anchor="middle" font-size="5.8">0</text>
<text x="296.74" y="244.00" text-anchor="middle" font-size="5.8">2</text>
<text x="308.41" y="244.00" text-anchor="middle" font-size="5.8">4</text>
<text x="320.09" y="244.00" text-anchor="middle" font-size="5.8">6</text>
<text x="331.76" y="244.00" text-anchor="middle" font-size="5.8">8</text>
<text x="343.43" y="244.00" text-anchor="middle" font-size="5.8">10</text>
<text x="355.11" y="244.00" text-anchor="middle" font-size="5.8">12</text>
<text x="366.78" y="244.00" text-anchor="middle" font-size="5.8">14</text>
<text x="378.45" y="244.00" text-anchor="middle" font-size="5.8">16</text>
<text x="390.13" y="244.00" text-anchor="middle" font-size="5.8">18</text>
<text x="401.80" y="244.00" text-anchor="middle" font-size="5.8">20</text>
<text x="227.30" y="238.70" text-anchor="end" font-size="5.8">-2.5</text>
<text x="227.30" y="218.93" text-anchor="end" font-size="5.8">-1.5</text>
<text x="227.30" y="209.05" text-anchor="end" font-size="5.8">-1</text>
<text x="227.30" y="199.16" text-anchor="end" font-size="5.8">-0.5</text>
<text x="227.30" y="189.28" text-anchor="end" font-size="5.8">0</text>
<text x="227.30" y="179.39" text-anchor="end" font-size="5.8">0.5</text>
<text x="227.30" y="169.51" text-anchor="end" font-size="5.8">1</text>
<text x="227.30" y="159.62" text-anchor="end" font-size="5.8">1.5</text>
<text x="227.30" y="149.74" text-anchor="end" font-size="5.8">2</text>
<text x="227.30" y="139.85" text-anchor="end" font-size="5.8">2.5</text>
<text x="312.95" y="251.30" text-anchor="middle" font-size="5.6">Lag (day)</text>
<text transform="translate(214.00,189.50) rotate(-90)" text-anchor="middle" font-size="5.8">tcwv (kg/m<tspan font-size="3.6" dy="-2">2</tspan><tspan dy="2">)</tspan></text>
<text x="204.80" y="133.00" font-size="7.5" font-weight="bold" style="stroke-width:0.35px">(d)</text>
<rect x="64.49" y="270.45" width="17.61" height="99.05" fill="#eaeaed"/>
<line x1="35.14" y1="270.45" x2="35.14" y2="369.50" stroke="#000" stroke-opacity="0.08" stroke-width="0.8"/>
<line x1="46.88" y1="270.45" x2="46.88" y2="369.50" stroke="#000" stroke-opacity="0.08" stroke-width="0.8"/>
<line x1="58.62" y1="270.45" x2="58.62" y2="369.50" stroke="#000" stroke-opacity="0.08" stroke-width="0.8"/>
<line x1="70.36" y1="270.45" x2="70.36" y2="369.50" stroke="#000" stroke-opacity="0.08" stroke-width="0.8"/>
<line x1="82.10" y1="270.45" x2="82.10" y2="369.50" stroke="#000" stroke-opacity="0.08" stroke-width="0.8"/>
<line x1="93.84" y1="270.45" x2="93.84" y2="369.50" stroke="#000" stroke-opacity="0.08" stroke-width="0.8"/>
<line x1="105.58" y1="270.45" x2="105.58" y2="369.50" stroke="#000" stroke-opacity="0.08" stroke-width="0.8"/>
<line x1="117.32" y1="270.45" x2="117.32" y2="369.50" stroke="#000" stroke-opacity="0.08" stroke-width="0.8"/>
<line x1="129.06" y1="270.45" x2="129.06" y2="369.50" stroke="#000" stroke-opacity="0.08" stroke-width="0.8"/>
<line x1="140.80" y1="270.45" x2="140.80" y2="369.50" stroke="#000" stroke-opacity="0.08" stroke-width="0.8"/>
<line x1="152.54" y1="270.45" x2="152.54" y2="369.50" stroke="#000" stroke-opacity="0.08" stroke-width="0.8"/>
<line x1="164.28" y1="270.45" x2="164.28" y2="369.50" stroke="#000" stroke-opacity="0.08" stroke-width="0.8"/>
<line x1="176.02" y1="270.45" x2="176.02" y2="369.50" stroke="#000" stroke-opacity="0.08" stroke-width="0.8"/>
<line x1="187.76" y1="270.45" x2="187.76" y2="369.50" stroke="#000" stroke-opacity="0.08" stroke-width="0.8"/>
<line x1="23.40" y1="357.12" x2="199.50" y2="357.12" stroke="#000" stroke-opacity="0.08" stroke-width="0.8"/>
<line x1="23.40" y1="344.74" x2="199.50" y2="344.74" stroke="#000" stroke-opacity="0.08" stroke-width="0.8"/>
<line x1="23.40" y1="332.36" x2="199.50" y2="332.36" stroke="#000" stroke-opacity="0.08" stroke-width="0.8"/>
<line x1="23.40" y1="319.98" x2="199.50" y2="319.98" stroke="#000" stroke-opacity="0.08" stroke-width="0.8"/>
<line x1="23.40" y1="307.59" x2="199.50" y2="307.59" stroke="#000" stroke-opacity="0.08" stroke-width="0.8"/>
<line x1="23.40" y1="295.21" x2="199.50" y2="295.21" stroke="#000" stroke-opacity="0.08" stroke-width="0.8"/>
<line x1="23.40" y1="282.83" x2="199.50" y2="282.83" stroke="#000" stroke-opacity="0.08" stroke-width="0.8"/>
<line x1="64.49" y1="270.45" x2="64.49" y2="369.50" stroke="#b8b8bc" stroke-width="0.5"/>
<line x1="82.10" y1="270.45" x2="82.10" y2="369.50" stroke="#b8b8bc" stroke-width="0.5"/>
<polyline points="23.4,317.3 27.1,315.8 29.5,317.0 34.3,320.1 39.0,321.7 43.8,322.5 47.7,323.0 51.7,322.5 56.5,319.3 61.2,315.4 66.0,312.7 70.7,311.4 75.5,311.9 80.0,313.0 84.8,315.4 89.5,318.5 94.3,320.9 99.0,323.3 103.8,325.2 108.5,327.3 113.3,329.3 118.0,330.9 122.8,332.0 127.6,333.1 132.3,334.1 137.1,335.2 140.0,335.7 144.8,336.0 149.5,335.5 154.3,334.4 159.0,332.8 163.8,328.8 168.5,325.7 173.3,322.5 178.0,320.4 182.8,319.0 187.6,317.3 192.3,316.5 197.1,315.7 199.4,315.0" fill="none" stroke="#a81a2c" stroke-width="1.4" stroke-linejoin="round" stroke-linecap="round"/>
<polyline points="23.4,317.3 27.9,314.6 32.7,314.1 37.4,314.1 42.2,313.8 47.0,313.0 51.7,311.4 56.5,309.8 61.2,307.9 66.0,305.9 70.7,304.3 75.5,304.6 80.2,306.3 84.8,308.7 89.5,311.4 94.3,314.1 99.0,316.6 103.8,318.5 108.5,320.1 113.3,320.9 118.0,321.2 122.8,320.9 127.6,320.9 132.3,321.2 137.1,321.4 140.0,321.7 144.8,322.2 149.5,322.5 154.3,322.2 159.0,321.4 163.8,320.4 168.5,319.8 173.3,319.6 178.0,320.1 182.8,320.9 187.6,321.4 192.3,322.5 197.1,323.8 199.4,324.6" fill="none" stroke="#2f3c97" stroke-width="1.4" stroke-linejoin="round" stroke-linecap="round"/>
<polyline points="23.4,326.8 27.9,324.1 32.7,320.9 37.4,317.7 42.2,314.6 47.0,311.4 51.7,309.3 56.5,307.8 59.6,307.4 62.8,308.2 67.6,310.6 72.3,313.0 77.1,315.0 80.0,315.9 84.8,317.3 89.5,319.0 94.3,320.4 99.0,321.7 103.8,322.5 108.5,323.0 113.3,323.0 118.0,321.7 122.8,320.1 127.6,318.9 132.3,318.1 137.1,317.4 140.0,317.3 144.8,317.7 149.5,318.2 154.3,318.5 159.0,318.5 163.8,318.9 168.5,319.0 173.3,319.3 178.0,320.1 182.8,320.6 187.6,320.4 192.3,320.1 197.1,319.6 199.4,319.3" fill="none" stroke="#e4a01a" stroke-width="1.4" stroke-linejoin="round" stroke-linecap="round"/>
<rect x="23.40" y="270.45" width="176.10" height="99.05" fill="none" stroke="#4a4a4a" stroke-width="0.8"/>
<line x1="35.14" y1="369.50" x2="35.14" y2="367.10" stroke="#4a4a4a" stroke-width="0.6"/>
<line x1="35.14" y1="270.45" x2="35.14" y2="272.85" stroke="#4a4a4a" stroke-width="0.6"/>
<line x1="46.88" y1="369.50" x2="46.88" y2="367.10" stroke="#4a4a4a" stroke-width="0.6"/>
<line x1="46.88" y1="270.45" x2="46.88" y2="272.85" stroke="#4a4a4a" stroke-width="0.6"/>
<line x1="58.62" y1="369.50" x2="58.62" y2="367.10" stroke="#4a4a4a" stroke-width="0.6"/>
<line x1="58.62" y1="270.45" x2="58.62" y2="272.85" stroke="#4a4a4a" stroke-width="0.6"/>
<line x1="70.36" y1="369.50" x2="70.36" y2="367.10" stroke="#4a4a4a" stroke-width="0.6"/>
<line x1="70.36" y1="270.45" x2="70.36" y2="272.85" stroke="#4a4a4a" stroke-width="0.6"/>
<line x1="82.10" y1="369.50" x2="82.10" y2="367.10" stroke="#4a4a4a" stroke-width="0.6"/>
<line x1="82.10" y1="270.45" x2="82.10" y2="272.85" stroke="#4a4a4a" stroke-width="0.6"/>
<line x1="93.84" y1="369.50" x2="93.84" y2="367.10" stroke="#4a4a4a" stroke-width="0.6"/>
<line x1="93.84" y1="270.45" x2="93.84" y2="272.85" stroke="#4a4a4a" stroke-width="0.6"/>
<line x1="105.58" y1="369.50" x2="105.58" y2="367.10" stroke="#4a4a4a" stroke-width="0.6"/>
<line x1="105.58" y1="270.45" x2="105.58" y2="272.85" stroke="#4a4a4a" stroke-width="0.6"/>
<line x1="117.32" y1="369.50" x2="117.32" y2="367.10" stroke="#4a4a4a" stroke-width="0.6"/>
<line x1="117.32" y1="270.45" x2="117.32" y2="272.85" stroke="#4a4a4a" stroke-width="0.6"/>
<line x1="129.06" y1="369.50" x2="129.06" y2="367.10" stroke="#4a4a4a" stroke-width="0.6"/>
<line x1="129.06" y1="270.45" x2="129.06" y2="272.85" stroke="#4a4a4a" stroke-width="0.6"/>
<line x1="140.80" y1="369.50" x2="140.80" y2="367.10" stroke="#4a4a4a" stroke-width="0.6"/>
<line x1="140.80" y1="270.45" x2="140.80" y2="272.85" stroke="#4a4a4a" stroke-width="0.6"/>
<line x1="152.54" y1="369.50" x2="152.54" y2="367.10" stroke="#4a4a4a" stroke-width="0.6"/>
<line x1="152.54" y1="270.45" x2="152.54" y2="272.85" stroke="#4a4a4a" stroke-width="0.6"/>
<line x1="164.28" y1="369.50" x2="164.28" y2="367.10" stroke="#4a4a4a" stroke-width="0.6"/>
<line x1="164.28" y1="270.45" x2="164.28" y2="272.85" stroke="#4a4a4a" stroke-width="0.6"/>
<line x1="176.02" y1="369.50" x2="176.02" y2="367.10" stroke="#4a4a4a" stroke-width="0.6"/>
<line x1="176.02" y1="270.45" x2="176.02" y2="272.85" stroke="#4a4a4a" stroke-width="0.6"/>
<line x1="187.76" y1="369.50" x2="187.76" y2="367.10" stroke="#4a4a4a" stroke-width="0.6"/>
<line x1="187.76" y1="270.45" x2="187.76" y2="272.85" stroke="#4a4a4a" stroke-width="0.6"/>
<line x1="23.40" y1="357.12" x2="25.80" y2="357.12" stroke="#4a4a4a" stroke-width="0.6"/>
<line x1="199.50" y1="357.12" x2="197.10" y2="357.12" stroke="#4a4a4a" stroke-width="0.6"/>
<line x1="23.40" y1="344.74" x2="25.80" y2="344.74" stroke="#4a4a4a" stroke-width="0.6"/>
<line x1="199.50" y1="344.74" x2="197.10" y2="344.74" stroke="#4a4a4a" stroke-width="0.6"/>
<line x1="23.40" y1="332.36" x2="25.80" y2="332.36" stroke="#4a4a4a" stroke-width="0.6"/>
<line x1="199.50" y1="332.36" x2="197.10" y2="332.36" stroke="#4a4a4a" stroke-width="0.6"/>
<line x1="23.40" y1="319.98" x2="25.80" y2="319.98" stroke="#4a4a4a" stroke-width="0.6"/>
<line x1="199.50" y1="319.98" x2="197.10" y2="319.98" stroke="#4a4a4a" stroke-width="0.6"/>
<line x1="23.40" y1="307.59" x2="25.80" y2="307.59" stroke="#4a4a4a" stroke-width="0.6"/>
<line x1="199.50" y1="307.59" x2="197.10" y2="307.59" stroke="#4a4a4a" stroke-width="0.6"/>
<line x1="23.40" y1="295.21" x2="25.80" y2="295.21" stroke="#4a4a4a" stroke-width="0.6"/>
<line x1="199.50" y1="295.21" x2="197.10" y2="295.21" stroke="#4a4a4a" stroke-width="0.6"/>
<line x1="23.40" y1="282.83" x2="25.80" y2="282.83" stroke="#4a4a4a" stroke-width="0.6"/>
<line x1="199.50" y1="282.83" x2="197.10" y2="282.83" stroke="#4a4a4a" stroke-width="0.6"/>
<text x="21.90" y="375.70" text-anchor="middle" font-size="5.8">−10</text>
<text x="33.64" y="375.70" text-anchor="middle" font-size="5.8">−8</text>
<text x="45.38" y="375.70" text-anchor="middle" font-size="5.8">−6</text>
<text x="57.12" y="375.70" text-anchor="middle" font-size="5.8">−4</text>
<text x="68.86" y="375.70" text-anchor="middle" font-size="5.8">−2</text>
<text x="80.60" y="375.70" text-anchor="middle" font-size="5.8">0</text>
<text x="92.34" y="375.70" text-anchor="middle" font-size="5.8">2</text>
<text x="104.08" y="375.70" text-anchor="middle" font-size="5.8">4</text>
<text x="115.82" y="375.70" text-anchor="middle" font-size="5.8">6</text>
<text x="127.56" y="375.70" text-anchor="middle" font-size="5.8">8</text>
<text x="139.30" y="375.70" text-anchor="middle" font-size="5.8">10</text>
<text x="151.04" y="375.70" text-anchor="middle" font-size="5.8">12</text>
<text x="162.78" y="375.70" text-anchor="middle" font-size="5.8">14</text>
<text x="174.52" y="375.70" text-anchor="middle" font-size="5.8">16</text>
<text x="186.26" y="375.70" text-anchor="middle" font-size="5.8">18</text>
<text x="198.00" y="375.70" text-anchor="middle" font-size="5.8">20</text>
<text x="22.00" y="371.10" text-anchor="end" font-size="5.8">−40</text>
<text x="22.00" y="358.72" text-anchor="end" font-size="5.8">−30</text>
<text x="22.00" y="346.34" text-anchor="end" font-size="5.8">−20</text>
<text x="22.00" y="333.96" text-anchor="end" font-size="5.8">−10</text>
<text x="22.00" y="321.58" text-anchor="end" font-size="5.8">0</text>
<text x="22.00" y="309.19" text-anchor="end" font-size="5.8">10</text>
<text x="22.00" y="296.81" text-anchor="end" font-size="5.8">20</text>
<text x="22.00" y="284.43" text-anchor="end" font-size="5.8">30</text>
<text x="22.00" y="272.05" text-anchor="end" font-size="5.8">40</text>
<text x="109.95" y="383.60" text-anchor="middle" font-size="5.6">Lag (day)</text>
<text transform="translate(10.30,321.00) rotate(-90)" text-anchor="middle" font-size="5.8">MFC in the BKS (w/m<tspan font-size="3.6" dy="-2">2</tspan><tspan dy="2">)</tspan></text>
<text x="0.10" y="270.00" font-size="7.5" font-weight="bold" style="stroke-width:0.35px">(e)</text>
<rect x="317.60" y="270.50" width="8.20" height="99.00" fill="#eaeaed"/>
<rect x="341.90" y="270.50" width="19.30" height="99.00" fill="#eaeaed"/>
<line x1="242.49" y1="270.50" x2="242.49" y2="369.50" stroke="#000" stroke-opacity="0.08" stroke-width="0.8"/>
<line x1="254.32" y1="270.50" x2="254.32" y2="369.50" stroke="#000" stroke-opacity="0.08" stroke-width="0.8"/>
<line x1="266.16" y1="270.50" x2="266.16" y2="369.50" stroke="#000" stroke-opacity="0.08" stroke-width="0.8"/>
<line x1="278.00" y1="270.50" x2="278.00" y2="369.50" stroke="#000" stroke-opacity="0.08" stroke-width="0.8"/>
<line x1="289.83" y1="270.50" x2="289.83" y2="369.50" stroke="#000" stroke-opacity="0.08" stroke-width="0.8"/>
<line x1="301.67" y1="270.50" x2="301.67" y2="369.50" stroke="#000" stroke-opacity="0.08" stroke-width="0.8"/>
<line x1="313.51" y1="270.50" x2="313.51" y2="369.50" stroke="#000" stroke-opacity="0.08" stroke-width="0.8"/>
<line x1="325.34" y1="270.50" x2="325.34" y2="369.50" stroke="#000" stroke-opacity="0.08" stroke-width="0.8"/>
<line x1="337.18" y1="270.50" x2="337.18" y2="369.50" stroke="#000" stroke-opacity="0.08" stroke-width="0.8"/>
<line x1="349.02" y1="270.50" x2="349.02" y2="369.50" stroke="#000" stroke-opacity="0.08" stroke-width="0.8"/>
<line x1="360.85" y1="270.50" x2="360.85" y2="369.50" stroke="#000" stroke-opacity="0.08" stroke-width="0.8"/>
<line x1="372.69" y1="270.50" x2="372.69" y2="369.50" stroke="#000" stroke-opacity="0.08" stroke-width="0.8"/>
<line x1="384.53" y1="270.50" x2="384.53" y2="369.50" stroke="#000" stroke-opacity="0.08" stroke-width="0.8"/>
<line x1="396.36" y1="270.50" x2="396.36" y2="369.50" stroke="#000" stroke-opacity="0.08" stroke-width="0.8"/>
<line x1="230.65" y1="357.12" x2="408.20" y2="357.12" stroke="#000" stroke-opacity="0.08" stroke-width="0.8"/>
<line x1="230.65" y1="344.75" x2="408.20" y2="344.75" stroke="#000" stroke-opacity="0.08" stroke-width="0.8"/>
<line x1="230.65" y1="332.38" x2="408.20" y2="332.38" stroke="#000" stroke-opacity="0.08" stroke-width="0.8"/>
<line x1="230.65" y1="320.00" x2="408.20" y2="320.00" stroke="#000" stroke-opacity="0.08" stroke-width="0.8"/>
<line x1="230.65" y1="307.62" x2="408.20" y2="307.62" stroke="#000" stroke-opacity="0.08" stroke-width="0.8"/>
<line x1="230.65" y1="295.25" x2="408.20" y2="295.25" stroke="#000" stroke-opacity="0.08" stroke-width="0.8"/>
<line x1="230.65" y1="282.88" x2="408.20" y2="282.88" stroke="#000" stroke-opacity="0.08" stroke-width="0.8"/>
<line x1="317.60" y1="270.50" x2="317.60" y2="369.50" stroke="#b8b8bc" stroke-width="0.5"/>
<line x1="325.80" y1="270.50" x2="325.80" y2="369.50" stroke="#b8b8bc" stroke-width="0.5"/>
<line x1="341.90" y1="270.50" x2="341.90" y2="369.50" stroke="#b8b8bc" stroke-width="0.5"/>
<line x1="361.20" y1="270.50" x2="361.20" y2="369.50" stroke="#b8b8bc" stroke-width="0.5"/>
<polyline points="230.7,327.3 233.3,323.3 236.5,319.8 239.7,321.7 242.9,323.6 247.6,324.6 252.4,325.2 257.1,325.2 260.3,324.6 265.0,320.9 269.8,317.3 274.6,314.6 277.7,313.0 282.5,313.5 287.0,313.5 290.2,313.5 294.9,315.7 299.7,318.5 304.4,321.7 309.2,325.7 314.0,329.6 318.7,333.6 321.9,336.0 325.0,337.6 329.8,337.6 334.6,336.8 339.3,336.0 344.1,335.2 349.8,334.9 354.5,334.4 359.3,333.6 364.0,333.1 367.2,332.0 372.0,328.0 376.7,324.9 381.5,322.5 386.2,321.2 391.0,320.4 395.7,319.3 400.5,320.1 403.7,319.3 408.1,317.0" fill="none" stroke="#a81a2c" stroke-width="1.4" stroke-linejoin="round" stroke-linecap="round"/>
<polyline points="230.7,316.6 233.3,315.0 236.5,313.5 239.7,314.1 244.4,315.0 249.2,315.0 253.9,313.8 258.7,311.9 263.5,309.3 268.2,306.2 273.0,303.0 277.7,301.4 282.5,301.9 287.0,304.0 291.8,306.3 296.5,308.7 301.3,311.1 306.0,313.5 310.8,315.7 315.5,317.7 320.3,319.0 325.0,319.3 329.8,319.3 334.6,319.0 339.3,319.3 344.1,320.1 348.8,321.4 352.0,322.3 354.5,323.0 359.3,323.3 364.0,323.3 368.8,322.2 373.5,320.4 378.3,319.6 383.0,320.1 387.8,320.9 392.6,322.5 397.3,323.8 402.1,324.6 405.2,323.3 408.1,322.0" fill="none" stroke="#2f3c97" stroke-width="1.4" stroke-linejoin="round" stroke-linecap="round"/>
<polyline points="230.7,332.5 234.1,328.8 238.1,324.1 242.9,319.3 247.6,314.1 252.4,310.6 257.1,309.3 261.9,308.7 265.8,309.8 269.8,313.0 274.6,316.2 279.3,319.3 284.1,321.0 287.0,320.9 291.8,321.2 296.5,321.4 301.3,321.7 306.0,322.2 310.8,322.5 315.5,322.8 318.7,323.3 321.9,321.7 326.6,320.1 331.4,319.3 336.1,319.0 340.9,319.8 345.7,320.4 349.8,320.9 354.5,321.7 359.3,322.2 364.0,322.2 368.8,320.9 373.5,319.8 378.3,319.3 383.0,320.1 387.8,320.6 392.6,320.4 397.3,320.1 402.1,320.1 405.2,320.4 408.1,320.1" fill="none" stroke="#e4a01a" stroke-width="1.4" stroke-linejoin="round" stroke-linecap="round"/>
<rect x="230.65" y="270.50" width="177.55" height="99.00" fill="none" stroke="#4a4a4a" stroke-width="0.8"/>
<line x1="242.49" y1="369.50" x2="242.49" y2="367.10" stroke="#4a4a4a" stroke-width="0.6"/>
<line x1="242.49" y1="270.50" x2="242.49" y2="272.90" stroke="#4a4a4a" stroke-width="0.6"/>
<line x1="254.32" y1="369.50" x2="254.32" y2="367.10" stroke="#4a4a4a" stroke-width="0.6"/>
<line x1="254.32" y1="270.50" x2="254.32" y2="272.90" stroke="#4a4a4a" stroke-width="0.6"/>
<line x1="266.16" y1="369.50" x2="266.16" y2="367.10" stroke="#4a4a4a" stroke-width="0.6"/>
<line x1="266.16" y1="270.50" x2="266.16" y2="272.90" stroke="#4a4a4a" stroke-width="0.6"/>
<line x1="278.00" y1="369.50" x2="278.00" y2="367.10" stroke="#4a4a4a" stroke-width="0.6"/>
<line x1="278.00" y1="270.50" x2="278.00" y2="272.90" stroke="#4a4a4a" stroke-width="0.6"/>
<line x1="289.83" y1="369.50" x2="289.83" y2="367.10" stroke="#4a4a4a" stroke-width="0.6"/>
<line x1="289.83" y1="270.50" x2="289.83" y2="272.90" stroke="#4a4a4a" stroke-width="0.6"/>
<line x1="301.67" y1="369.50" x2="301.67" y2="367.10" stroke="#4a4a4a" stroke-width="0.6"/>
<line x1="301.67" y1="270.50" x2="301.67" y2="272.90" stroke="#4a4a4a" stroke-width="0.6"/>
<line x1="313.51" y1="369.50" x2="313.51" y2="367.10" stroke="#4a4a4a" stroke-width="0.6"/>
<line x1="313.51" y1="270.50" x2="313.51" y2="272.90" stroke="#4a4a4a" stroke-width="0.6"/>
<line x1="325.34" y1="369.50" x2="325.34" y2="367.10" stroke="#4a4a4a" stroke-width="0.6"/>
<line x1="325.34" y1="270.50" x2="325.34" y2="272.90" stroke="#4a4a4a" stroke-width="0.6"/>
<line x1="337.18" y1="369.50" x2="337.18" y2="367.10" stroke="#4a4a4a" stroke-width="0.6"/>
<line x1="337.18" y1="270.50" x2="337.18" y2="272.90" stroke="#4a4a4a" stroke-width="0.6"/>
<line x1="349.02" y1="369.50" x2="349.02" y2="367.10" stroke="#4a4a4a" stroke-width="0.6"/>
<line x1="349.02" y1="270.50" x2="349.02" y2="272.90" stroke="#4a4a4a" stroke-width="0.6"/>
<line x1="360.85" y1="369.50" x2="360.85" y2="367.10" stroke="#4a4a4a" stroke-width="0.6"/>
<line x1="360.85" y1="270.50" x2="360.85" y2="272.90" stroke="#4a4a4a" stroke-width="0.6"/>
<line x1="372.69" y1="369.50" x2="372.69" y2="367.10" stroke="#4a4a4a" stroke-width="0.6"/>
<line x1="372.69" y1="270.50" x2="372.69" y2="272.90" stroke="#4a4a4a" stroke-width="0.6"/>
<line x1="384.53" y1="369.50" x2="384.53" y2="367.10" stroke="#4a4a4a" stroke-width="0.6"/>
<line x1="384.53" y1="270.50" x2="384.53" y2="272.90" stroke="#4a4a4a" stroke-width="0.6"/>
<line x1="396.36" y1="369.50" x2="396.36" y2="367.10" stroke="#4a4a4a" stroke-width="0.6"/>
<line x1="396.36" y1="270.50" x2="396.36" y2="272.90" stroke="#4a4a4a" stroke-width="0.6"/>
<line x1="230.65" y1="357.12" x2="233.05" y2="357.12" stroke="#4a4a4a" stroke-width="0.6"/>
<line x1="408.20" y1="357.12" x2="405.80" y2="357.12" stroke="#4a4a4a" stroke-width="0.6"/>
<line x1="230.65" y1="344.75" x2="233.05" y2="344.75" stroke="#4a4a4a" stroke-width="0.6"/>
<line x1="408.20" y1="344.75" x2="405.80" y2="344.75" stroke="#4a4a4a" stroke-width="0.6"/>
<line x1="230.65" y1="332.38" x2="233.05" y2="332.38" stroke="#4a4a4a" stroke-width="0.6"/>
<line x1="408.20" y1="332.38" x2="405.80" y2="332.38" stroke="#4a4a4a" stroke-width="0.6"/>
<line x1="230.65" y1="320.00" x2="233.05" y2="320.00" stroke="#4a4a4a" stroke-width="0.6"/>
<line x1="408.20" y1="320.00" x2="405.80" y2="320.00" stroke="#4a4a4a" stroke-width="0.6"/>
<line x1="230.65" y1="307.62" x2="233.05" y2="307.62" stroke="#4a4a4a" stroke-width="0.6"/>
<line x1="408.20" y1="307.62" x2="405.80" y2="307.62" stroke="#4a4a4a" stroke-width="0.6"/>
<line x1="230.65" y1="295.25" x2="233.05" y2="295.25" stroke="#4a4a4a" stroke-width="0.6"/>
<line x1="408.20" y1="295.25" x2="405.80" y2="295.25" stroke="#4a4a4a" stroke-width="0.6"/>
<line x1="230.65" y1="282.88" x2="233.05" y2="282.88" stroke="#4a4a4a" stroke-width="0.6"/>
<line x1="408.20" y1="282.88" x2="405.80" y2="282.88" stroke="#4a4a4a" stroke-width="0.6"/>
<text x="228.15" y="375.50" text-anchor="middle" font-size="5.8">−10</text>
<text x="239.99" y="375.50" text-anchor="middle" font-size="5.8">−8</text>
<text x="251.82" y="375.50" text-anchor="middle" font-size="5.8">−6</text>
<text x="263.66" y="375.50" text-anchor="middle" font-size="5.8">−4</text>
<text x="275.50" y="375.50" text-anchor="middle" font-size="5.8">−2</text>
<text x="299.17" y="375.50" text-anchor="middle" font-size="5.8">2</text>
<text x="311.01" y="375.50" text-anchor="middle" font-size="5.8">4</text>
<text x="322.84" y="375.50" text-anchor="middle" font-size="5.8">6</text>
<text x="334.68" y="375.50" text-anchor="middle" font-size="5.8">8</text>
<text x="346.52" y="375.50" text-anchor="middle" font-size="5.8">10</text>
<text x="358.35" y="375.50" text-anchor="middle" font-size="5.8">12</text>
<text x="370.19" y="375.50" text-anchor="middle" font-size="5.8">14</text>
<text x="382.03" y="375.50" text-anchor="middle" font-size="5.8">16</text>
<text x="393.86" y="375.50" text-anchor="middle" font-size="5.8">18</text>
<text x="405.70" y="375.50" text-anchor="middle" font-size="5.8">20</text>
<text x="229.25" y="371.10" text-anchor="end" font-size="5.8">−40</text>
<text x="229.25" y="358.73" text-anchor="end" font-size="5.8">−30</text>
<text x="229.25" y="346.35" text-anchor="end" font-size="5.8">−20</text>
<text x="229.25" y="333.98" text-anchor="end" font-size="5.8">−10</text>
<text x="229.25" y="321.60" text-anchor="end" font-size="5.8">0</text>
<text x="229.25" y="309.23" text-anchor="end" font-size="5.8">10</text>
<text x="229.25" y="296.85" text-anchor="end" font-size="5.8">20</text>
<text x="229.25" y="284.48" text-anchor="end" font-size="5.8">30</text>
<text x="229.25" y="272.10" text-anchor="end" font-size="5.8">40</text>
<text x="316.43" y="383.20" text-anchor="middle" font-size="5.6">Lag (day)</text>
<text transform="translate(217.00,320.50) rotate(-90)" text-anchor="middle" font-size="5.8">Upstream MFC (w/m<tspan font-size="3.6" dy="-2">2</tspan><tspan dy="2">)</tspan></text>
<text x="204.80" y="270.00" font-size="7.5" font-weight="bold" style="stroke-width:0.35px">(f)</text>
</g></svg></div>
</body></html>
